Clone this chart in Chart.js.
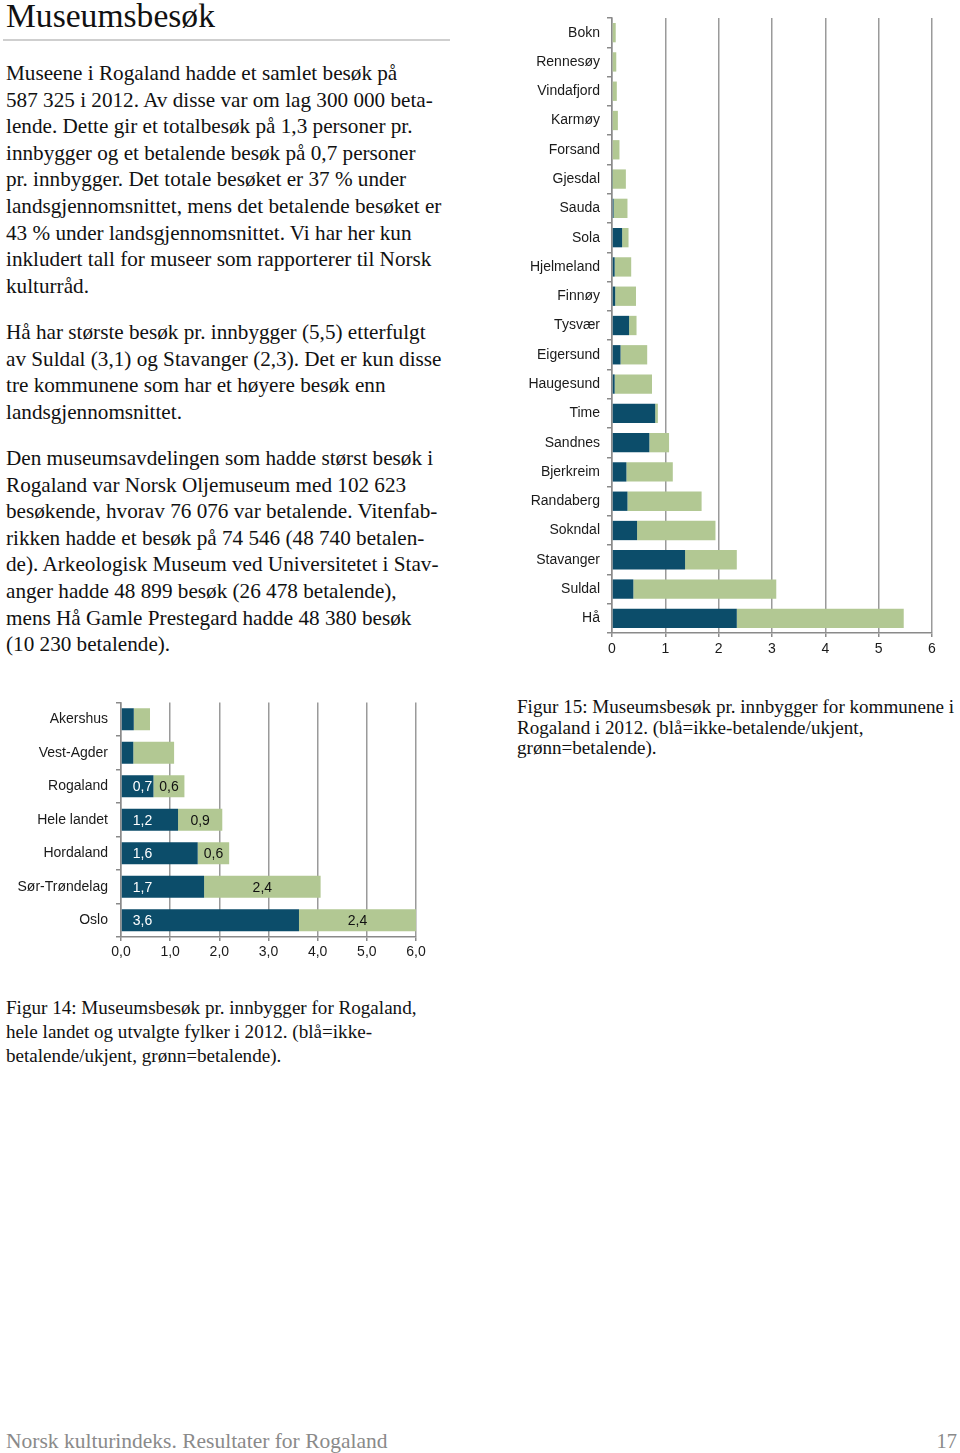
<!DOCTYPE html>
<html lang="no">
<head>
<meta charset="utf-8">
<title>Museumsbesøk</title>
<script src="https://cdn.jsdelivr.net/npm/chart.js@4.4.1/dist/chart.umd.min.js"></script>
<style>
  html, body { margin: 0; padding: 0; background: #fff; }
  body { width: 960px; height: 1453px; position: relative; overflow: hidden; font-family: "Liberation Serif", "DejaVu Serif", serif; color: #111; }
  .abs { position: absolute; }
  .title { left: 6px; top: -4px; font-size: 33.6px; line-height: 40px; white-space: nowrap; }
  .rule { left: 3px; top: 39px; width: 447px; height: 2px; background: #cfcfcf; }
  .body { left: 6px; font-size: 21.2px; line-height: 26.6px; white-space: nowrap; }
  .cap { font-size: 19.1px; white-space: nowrap; }
  .foot { left: 6px; top: 1428px; font-size: 21.5px; line-height: 26px; color: #8a8a8a; white-space: nowrap; }
  .pnum { right: 3px; top: 1428px; font-size: 20.5px; line-height: 26px; color: #8a8a8a; }
  canvas { position: absolute; }
</style>
</head>
<body>
<div class="abs title">Museumsbesøk</div>
<div class="abs rule"></div>

<div class="abs body" style="top:60px">Museene i Rogaland hadde et samlet besøk på<br>587 325 i 2012. Av disse var om lag 300 000 beta-<br>lende. Dette gir et totalbesøk på 1,3 personer pr.<br>innbygger og et betalende besøk på 0,7 personer<br>pr. innbygger. Det totale besøket er 37 % under<br>landsgjennomsnittet, mens det betalende besøket er<br>43 % under landsgjennomsnittet. Vi har her kun<br>inkludert tall for museer som rapporterer til Norsk<br>kulturråd.</div>

<div class="abs body" style="top:319px">Hå har største besøk pr. innbygger (5,5) etterfulgt<br>av Suldal (3,1) og Stavanger (2,3). Det er kun disse<br>tre kommunene som har et høyere besøk enn<br>landsgjennomsnittet.</div>

<div class="abs body" style="top:445px">Den museumsavdelingen som hadde størst besøk i<br>Rogaland var Norsk Oljemuseum med 102 623<br>besøkende, hvorav 76 076 var betalende. Vitenfab-<br>rikken hadde et besøk på 74 546 (48 740 betalen-<br>de). Arkeologisk Museum ved Universitetet i Stav-<br>anger hadde 48 899 besøk (26 478 betalende),<br>mens Hå Gamle Prestegard hadde 48 380 besøk<br>(10 230 betalende).</div>

<div class="abs cap" style="left:517px; top:697px; line-height:20.7px">Figur 15: Museumsbesøk pr. innbygger for kommunene i<br>Rogaland i 2012. (blå=ikke-betalende/ukjent,<br>grønn=betalende).</div>

<div class="abs cap" style="left:6px; top:996px; line-height:24px">Figur 14: Museumsbesøk pr. innbygger for Rogaland,<br>hele landet og utvalgte fylker i 2012. (blå=ikke-<br>betalende/ukjent, grønn=betalende).</div>

<div class="abs foot">Norsk kulturindeks. Resultater for Rogaland</div>
<div class="abs pnum">17</div>

<canvas id="kommuner" width="450" height="668" style="left:500px; top:1px;"></canvas>
<canvas id="fylker" width="440" height="285" style="left:0px; top:686px;"></canvas>

<script>
// ---------- Data: Figur 15 (kommuner i Rogaland) ----------
const kommuner = ['Bokn','Rennesøy','Vindafjord','Karmøy','Forsand','Gjesdal','Sauda','Sola','Hjelmeland','Finnøy','Tysvær','Eigersund','Haugesund','Time','Sandnes','Bjerkreim','Randaberg','Sokndal','Stavanger','Suldal','Hå'];
const kommunerIkkeBetalende = [0, 0, 0, 0, 0, 0.01, 0.03, 0.19, 0.05, 0.06, 0.32, 0.16, 0.05, 0.81, 0.70, 0.27, 0.29, 0.47, 1.37, 0.40, 2.34];
const kommunerBetalende     = [0.07, 0.08, 0.09, 0.11, 0.14, 0.25, 0.26, 0.12, 0.31, 0.39, 0.14, 0.50, 0.70, 0.05, 0.37, 0.87, 1.39, 1.47, 0.97, 2.68, 3.13];
const kommunerTicks = [0, 1, 2, 3, 4, 5, 6];

// ---------- Data: Figur 14 (fylker) ----------
const fylker = ['Akershus','Vest-Agder','Rogaland','Hele landet','Hordaland','Sør-Trøndelag','Oslo'];
const fylkerIkkeBetalende = [0.26, 0.25, 0.66, 1.16, 1.56, 1.69, 3.62];
const fylkerBetalende     = [0.33, 0.83, 0.63, 0.90, 0.64, 2.37, 2.38];
const fylkerTicks = [0, 1, 2, 3, 4, 5, 6];
const fylkerMedEtiketter = ['Rogaland','Hele landet','Hordaland','Sør-Trøndelag','Oslo'];

const BLUE = '#0c4d6a';
const GREEN = '#b2c893';
const GRID = '#9a9a9a';
const AXIS = '#8a8a8a';

Chart.defaults.font.family = '"Liberation Sans", Arial, sans-serif';
Chart.defaults.font.size = 14;
Chart.defaults.color = '#1a1a1a';

const segLabels = {
  id: 'segLabels',
  afterDatasetsDraw(chart) {
    const ctx = chart.ctx;
    ctx.save();
    ctx.font = '14px "Liberation Sans", Arial, sans-serif';
    ctx.textBaseline = 'middle';
    chart.data.datasets.forEach((ds, di) => {
      const meta = chart.getDatasetMeta(di);
      meta.data.forEach((bar, i) => {
        if (!fylkerMedEtiketter.includes(chart.data.labels[i])) return;
        const txt = ds.data[i].toFixed(1).replace('.', ',');
        if (di === 0) {
          ctx.fillStyle = '#ffffff';
          ctx.textAlign = 'left';
          ctx.fillText(txt, bar.base + 11, bar.y + 1);
        } else {
          ctx.fillStyle = '#111111';
          ctx.textAlign = 'center';
          ctx.fillText(txt, (bar.x + bar.base) / 2, bar.y + 1);
        }
      });
    });
    ctx.restore();
  }
};

function makeChart(id, labels, dark, green, ticks, opts) {
  return new Chart(document.getElementById(id), {
    type: 'bar',
    data: {
      labels: labels,
      datasets: [
        { label: 'Ikke-betalende/ukjent', data: dark, backgroundColor: BLUE, borderWidth: 0 },
        { label: 'Betalende', data: green, backgroundColor: GREEN, borderWidth: 0 }
      ]
    },
    options: {
      indexAxis: 'y',
      responsive: false,
      animation: false,
      devicePixelRatio: 1,
      layout: { padding: opts.padding },
      datasets: { bar: { categoryPercentage: 1, barPercentage: opts.barPct } },
      plugins: { legend: { display: false }, tooltip: { enabled: false } },
      scales: {
        x: {
          stacked: true,
          min: ticks[0],
          max: ticks[ticks.length - 1],
          afterBuildTicks: (s) => { s.ticks = ticks.map(v => ({ value: v })); },
          afterFit: (s) => { s.height = opts.xHeight; },
          grid: { color: GRID, lineWidth: 1.5, tickLength: 4, tickColor: AXIS },
          border: { color: AXIS, width: 1.5 },
          ticks: { padding: opts.xPad, color: '#1a1a1a', callback: opts.fmt }
        },
        y: {
          stacked: true,
          afterFit: (s) => { s.width = opts.yWidth; },
          grid: { drawOnChartArea: false, tickLength: 5, color: AXIS, lineWidth: 1.5 },
          border: { color: AXIS, width: 1.5 },
          ticks: { padding: opts.yPad, color: '#1a1a1a', autoSkip: false }
        }
      }
    },
    plugins: opts.plugins || []
  });
}

makeChart('kommuner', kommuner, kommunerIkkeBetalende, kommunerBetalende, kommunerTicks, {
  padding: { top: 17, right: 18, bottom: 0, left: 0 },
  barPct: 0.66,
  xHeight: 36,
  yWidth: 112,
  xPad: 4,
  yPad: 7,
  fmt: (v) => String(v)
});

makeChart('fylker', fylker, fylkerIkkeBetalende, fylkerBetalende, fylkerTicks, {
  padding: { top: 16.5, right: 24, bottom: 0, left: 0 },
  barPct: 0.65,
  xHeight: 34,
  yWidth: 121,
  xPad: 3,
  yPad: 8,
  fmt: (v) => Number(v).toFixed(1).replace('.', ','),
  plugins: [segLabels]
});
</script>
</body>
</html>
